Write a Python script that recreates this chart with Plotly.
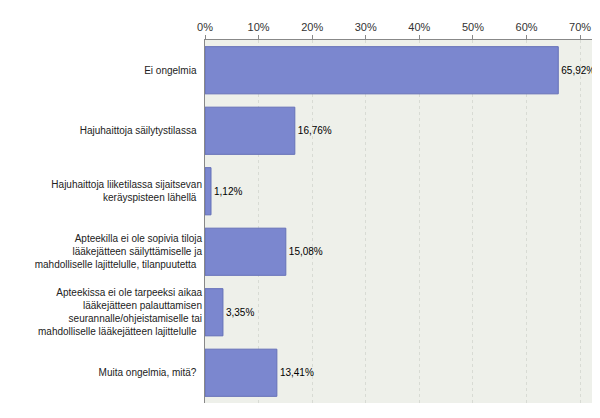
import plotly.graph_objects as go

categories = [
    "Ei ongelmia",
    "Hajuhaittoja säilytystilassa",
    "Hajuhaittoja liiketilassa sijaitsevan<br>keräyspisteen lähellä",
    "Apteekilla ei ole sopivia tiloja<br>lääkejätteen säilyttämiselle ja<br>mahdolliselle lajittelulle, tilanpuutetta",
    "Apteekissa ei ole tarpeeksi aikaa<br>lääkejätteen palauttamisen<br>seurannalle/ohjeistamiselle tai<br>mahdolliselle lääkejätteen lajittelulle",
    "Muita ongelmia, mitä?",
]
values = [65.92, 16.76, 1.12, 15.08, 3.35, 13.41]
labels = [f"{v:.2f}%".replace(".", ",") for v in values]

fig = go.Figure(go.Bar(
    x=values, y=categories, orientation="h",
    marker=dict(color="#7b87cf", line=dict(color="#6570b8", width=1)),
    text=labels, textposition="outside", cliponaxis=False,
    textfont=dict(size=10, color="black", family="Arial"),
    width=0.78,
))
fig.update_layout(
    width=600, height=418,
    margin=dict(l=197, r=15, t=32, b=23),
    paper_bgcolor="white", plot_bgcolor="#eef0ea",
    showlegend=False,
    font=dict(family="Arial", size=10, color="#222"),
    xaxis=dict(side="top", range=[0, 72.4], dtick=10, ticksuffix="%",
               showgrid=True, gridcolor="#d8dbd4", griddash="dot",
               showline=True, linecolor="#888", ticks="outside",
               ticklen=4, tickcolor="#888", zeroline=False, automargin=False,
               tickfont=dict(size=11, color="#333")),
    yaxis=dict(autorange="reversed", showline=True, linecolor="#888",
               ticks="", ticksuffix="  ", automargin=False,
               tickfont=dict(size=10, color="#222")),
)
fig.write_html("out.html")
